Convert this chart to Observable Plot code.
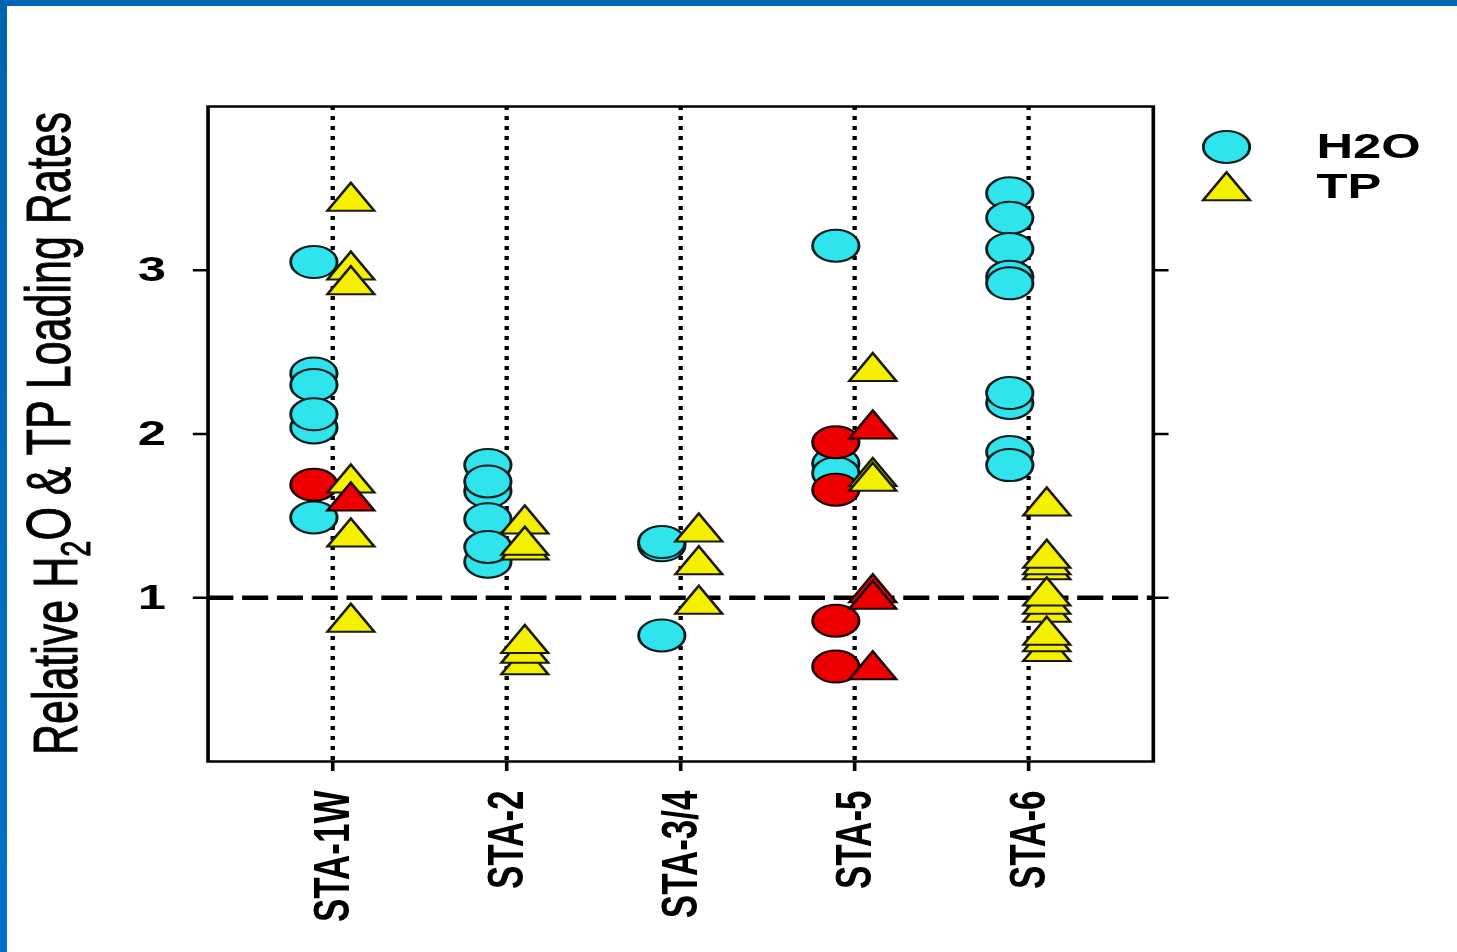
<!DOCTYPE html>
<html>
<head>
<meta charset="utf-8">
<script src="https://cdn.jsdelivr.net/npm/d3@7"></script>
<script src="https://cdn.jsdelivr.net/npm/@observablehq/plot@0.6"></script>
<style>
  html, body { margin: 0; padding: 0; background: #ffffff; overflow: hidden; }
  #wrap { position: absolute; left: 0; top: 0; width: 1005px; height: 952px;
          transform: scaleX(1.4498); transform-origin: 0 0; }
  .bar-top { position: absolute; left: 0; top: 0; width: 1457px; height: 6px; background: #0066b2; }
  .bar-left { position: absolute; left: 0; top: 0; width: 7px; height: 952px;
              background: linear-gradient(#0064ae, #0072c6); }
</style>
</head>
<body>
<div id="wrap"></div>
<div class="bar-top"></div>
<div class="bar-left"></div>
<script>
// ---- data ----
const stations = ["STA-1W", "STA-2", "STA-3/4", "STA-5", "STA-6"];
const yTicks = [1, 2, 3];
const seriesNames = ["H2O", "TP"];
const yLabelParts = ["Relative H", "2", "O & TP Loading Rates"];

// relative H2O loading rates (cyan circles), one list per station
const h2oValues = [
  [3.05, 2.37, 2.30, 2.04, 2.12, 1.49],
  [1.81, 1.65, 1.71, 1.48, 1.22, 1.31],
  [1.32, 1.34, 0.77],
  [3.15, 1.82, 1.76],
  [3.47, 3.32, 3.13, 2.96, 2.92, 2.19, 2.25, 1.89, 1.81]
];
// highlighted H2O values (red circles)
const h2oHighlight = [
  [1.69],
  [],
  [],
  [1.95, 1.66, 0.86, 0.58],
  []
];
// relative TP loading rates (yellow triangles)
const tpValues = [
  [3.42, 3.00, 2.91, 1.70, 1.37, 0.85],
  [1.45, 1.29, 1.32, 0.59, 0.66, 0.72],
  [1.40, 1.20, 0.96],
  [2.38, 1.74, 1.71],
  [1.56, 1.17, 1.20, 1.24, 0.91, 0.96, 1.01, 0.67, 0.73, 0.77]
];
// highlighted TP values (red triangles)
const tpHighlight = [
  [1.59],
  [],
  [],
  [2.03, 1.03, 0.99, 0.56],
  []
];

const cyan = "#30e4ee";
const yellow = "#f4f000";
const red = "#ee0000";

const toRows = (lists) => lists.flatMap((vals, i) => vals.map(v => ({station: stations[i], value: v})));

const h2oRows = toRows(h2oValues);
const h2oRedRows = toRows(h2oHighlight);
const tpRows = toRows(tpValues);
const tpRedRows = toRows(tpHighlight);

const CIRCLE_R = 16, TRI_R = 12;
const CIRCLE_DX = -13, TRI_DX = 12.5;
const SW = 2;
const FONT = "'Liberation Sans', Arial, Helvetica, sans-serif";

const plot = Plot.plot({
  width: 1005,
  height: 952,
  marginLeft: 143,
  marginRight: 210,
  marginTop: 106,
  marginBottom: 191,
  style: {fontFamily: FONT, background: "transparent", overflow: "visible", color: "#000"},
  x: {type: "point", domain: stations, padding: 0.7},
  y: {domain: [0, 4]},
  marks: [
    Plot.ruleX(stations, {x: d => d, stroke: "#000", strokeWidth: 3, strokeDasharray: "4 6"}),
    Plot.ruleY([1], {stroke: "#000", strokeWidth: 4.5, strokeDasharray: "18 6"}),
    Plot.axisY({ticks: yTicks, tickFormat: d => String(d), tickSize: 10, tickPadding: 19, fontSize: 35, fontWeight: "bold", label: null, strokeWidth: 2.5}),
    Plot.axisY({anchor: "right", ticks: yTicks, tickSize: 10, tickFormat: () => "", label: null, strokeWidth: 2.5}),
    Plot.axisX({tickSize: 10, tickPadding: 19, tickRotate: -90, fontSize: 35, fontWeight: "bold", label: null, strokeWidth: 2.5}),
    Plot.dot(h2oRows, {x: "station", y: "value", r: CIRCLE_R, dx: CIRCLE_DX, fill: cyan, stroke: "#0a2020", strokeWidth: SW}),
    Plot.dot(h2oRedRows, {x: "station", y: "value", r: CIRCLE_R, dx: CIRCLE_DX, fill: red, stroke: "#1a0000", strokeWidth: SW}),
    Plot.dot(tpRows, {x: "station", y: "value", symbol: "triangle", r: TRI_R, dx: TRI_DX, fill: yellow, stroke: "#1a1a00", strokeWidth: SW}),
    Plot.dot(tpRedRows, {x: "station", y: "value", symbol: "triangle", r: TRI_R, dx: TRI_DX, fill: red, stroke: "#1a0000", strokeWidth: SW}),
    Plot.frame({stroke: "#000", strokeWidth: 2.5})
  ]
});

document.getElementById("wrap").appendChild(plot);

// y-axis title (rotated) with subscript
const svg = d3.select(plot);
const lab = svg.append("text")
  .attr("transform", "translate(53,433.5) rotate(-90)")
  .attr("text-anchor", "middle")
  .attr("fill", "#000")
  .attr("stroke", "#000")
  .attr("stroke-width", 0.7)
  .style("font-size", "43px")
  .style("font-family", FONT);
lab.append("tspan").text(yLabelParts[0]);
lab.append("tspan").attr("dy", "0.32em").style("font-size", "29px").text(yLabelParts[1]);
lab.append("tspan").attr("dy", "-0.32em").text(yLabelParts[2]);

// legend (top right, outside the frame)
const leg = svg.append("g").attr("class", "legend");
const legX = 846, legTextX = 908;
leg.append("path")
  .attr("d", d3.symbol(d3.symbolCircle, Math.PI * CIRCLE_R * CIRCLE_R)())
  .attr("transform", `translate(${legX},147)`)
  .attr("fill", cyan).attr("stroke", "#0a2020").attr("stroke-width", SW);
leg.append("path")
  .attr("d", d3.symbol(d3.symbolTriangle, Math.PI * TRI_R * TRI_R)())
  .attr("transform", `translate(${legX},191)`)
  .attr("fill", yellow).attr("stroke", "#1a1a00").attr("stroke-width", SW);
leg.selectAll("text.lt").data(seriesNames).join("text")
  .attr("class", "lt")
  .attr("x", legTextX)
  .attr("y", (d, i) => [158.5, 198][i])
  .attr("text-anchor", "start")
  .attr("fill", "#000")
  .style("font-size", "35px")
  .style("font-weight", "bold")
  .style("font-family", FONT)
  .text(d => d);
</script>
</body>
</html>
